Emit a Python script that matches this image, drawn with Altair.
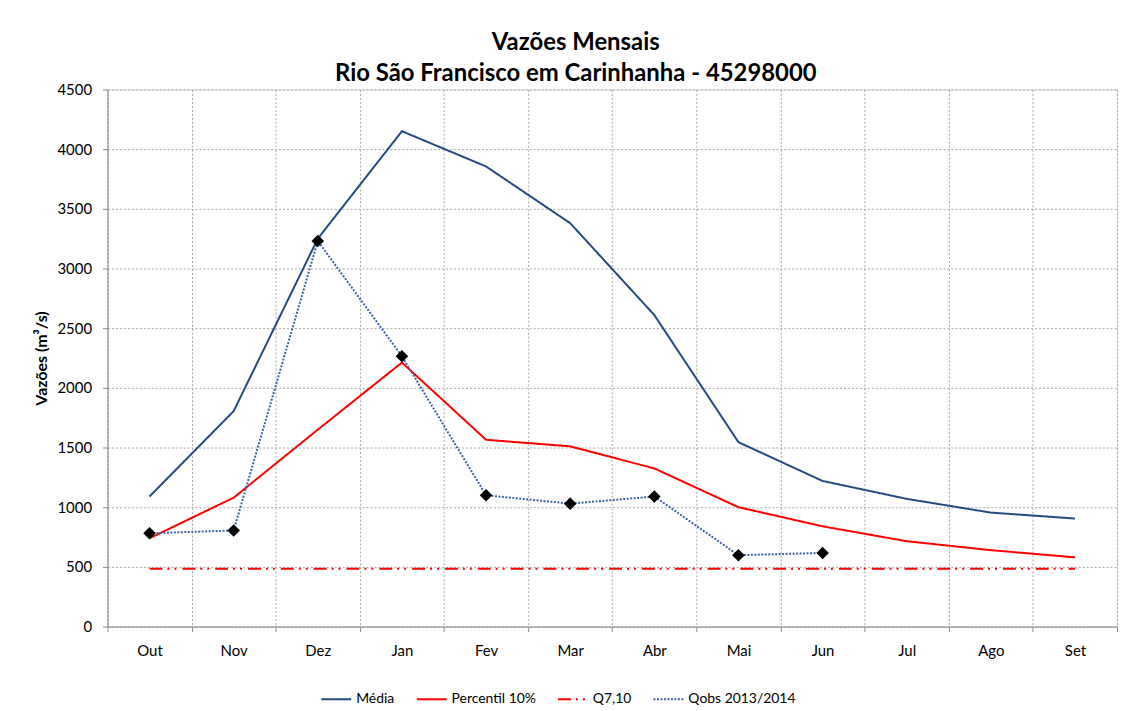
import altair as alt
import pandas as pd

meses = ["Out", "Nov", "Dez", "Jan", "Fev", "Mar", "Abr", "Mai", "Jun", "Jul", "Ago", "Set"]
media = [1090, 1805, 3250, 4150, 3855, 3380, 2610, 1545, 1220, 1070, 955, 905]
perc10 = [740, 1080, 1650, 2212, 1565, 1510, 1325, 1000, 840, 715, 640, 580]
q710 = [485] * 12
qobs_meses = ["Out", "Nov", "Dez", "Jan", "Fev", "Mar", "Abr", "Mai", "Jun"]
qobs = [782, 805, 3230, 2265, 1100, 1030, 1090, 598, 617]

series = ["Média", "Percentil 10%", "Q7,10", "Qobs 2013/2014"]
cores = ["#254A80", "#FF0000", "#FF0000", "#3B63A0"]
tracos = [[1, 0], [1, 0], [13, 5, 2, 5, 2, 6], [2, 1.5]]
larguras = [2, 2, 2, 1]

rows = []
for m, v in zip(meses, media):
    rows.append({"mes": m, "valor": v, "serie": series[0]})
for m, v in zip(meses, perc10):
    rows.append({"mes": m, "valor": v, "serie": series[1]})
for m, v in zip(meses, q710):
    rows.append({"mes": m, "valor": v, "serie": series[2]})
for m, v in zip(qobs_meses, qobs):
    rows.append({"mes": m, "valor": v, "serie": series[3]})
df = pd.DataFrame(rows)
df_obs = pd.DataFrame({"mes": qobs_meses, "valor": qobs})

font = "Lato"

x = alt.X(
    "mes:N",
    sort=meses,
    bandPosition=0.5,
    scale=alt.Scale(type="band", domain=meses, paddingInner=0, paddingOuter=0),
    axis=alt.Axis(
        title=None,
        tickBand="extent",
        labelAngle=0,
        labelFontSize=15,
        labelPadding=12,
        labelColor="#000000",
        labelFont=font,
        domainColor="#8c8c8c",
        tickColor="#8c8c8c",
        tickSize=5,
        grid=True,
        gridColor="#a6a6a6",
        gridDash=[2, 2],
    ),
)
y = alt.Y(
    "valor:Q",
    scale=alt.Scale(domain=[0, 4500], nice=False),
    axis=alt.Axis(
        title="Vazões (m³/s)",
        titleFont=font,
        titleFontSize=16,
        titleFontWeight="bold",
        titleColor="#000000",
        titlePadding=7,
        values=list(range(0, 4501, 500)),
        format="d",
        labelFontSize=15,
        labelFont=font,
        labelColor="#000000",
        labelPadding=11,
        domainColor="#8c8c8c",
        tickColor="#8c8c8c",
        tickSize=5,
        grid=True,
        gridColor="#a6a6a6",
        gridDash=[2, 2],
    ),
)

leg = alt.Legend(
    title=None,
    orient="none",
    legendX=214,
    legendY=597,
    direction="horizontal",
    symbolType="stroke",
    symbolSize=900,
    symbolStrokeWidth=2,
    labelFont=font,
    labelFontSize=14,
    labelColor="#000000",
    labelOffset=4,
    columnPadding=18,
    labelLimit=300,
)

linhas = alt.Chart(df).mark_line().encode(
    x=x,
    y=y,
    color=alt.Color("serie:N", scale=alt.Scale(domain=series, range=cores), legend=leg),
    strokeDash=alt.StrokeDash("serie:N", scale=alt.Scale(domain=series, range=tracos), legend=leg),
    strokeWidth=alt.StrokeWidth(
        "serie:N", scale=alt.Scale(domain=series, range=larguras), legend=None
    ),
)

pontos = alt.Chart(df_obs).mark_point(
    shape="diamond", filled=True, color="#000000", size=160, opacity=1
).encode(x=x, y=y)

chart = (
    alt.layer(linhas, pontos)
    .properties(
        width=1015,
        height=540,
        padding={"left": 26, "top": 21, "right": 5, "bottom": 5},
        title=alt.TitleParams(
            text=["Vazões Mensais", "Rio São Francisco em Carinhanha - 45298000"],
            font=font,
            fontSize=24,
            fontWeight="bold",
            color="#000000",
            anchor="middle",
            frame="bounds",
            offset=-3,
            lineHeight=31,
        ),
    )
    .configure_view(stroke=None)
    .configure(background="#ffffff")
)

chart.save("out.html", embed_options={"renderer": "svg", "actions": False})
